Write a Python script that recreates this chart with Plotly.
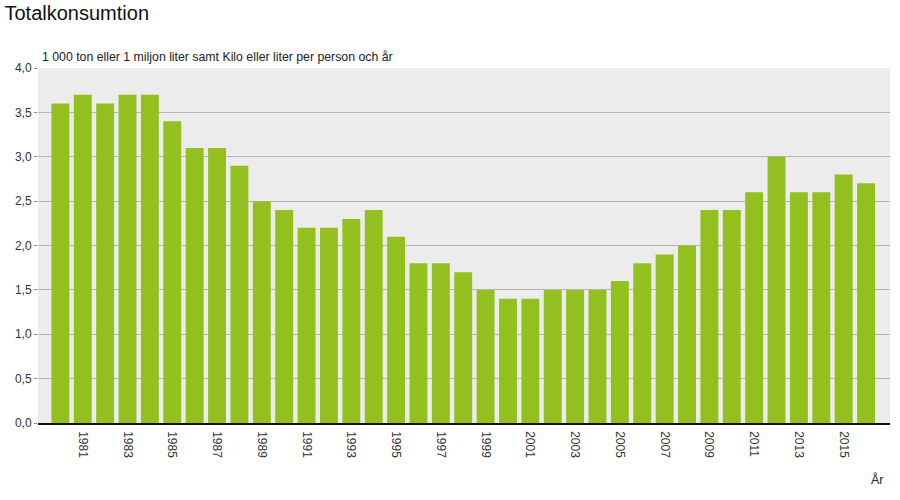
import plotly.graph_objects as go

years = list(range(1980, 2017))
values = [3.6, 3.7, 3.6, 3.7, 3.7, 3.4, 3.1, 3.1, 2.9, 2.5,
          2.4, 2.2, 2.2, 2.3, 2.4, 2.1, 1.8, 1.8, 1.7, 1.5,
          1.4, 1.4, 1.5, 1.5, 1.5, 1.6, 1.8, 1.9, 2.0, 2.4,
          2.4, 2.6, 3.0, 2.6, 2.6, 2.8, 2.7]
tick_years = list(range(1981, 2016, 2))
y_ticks = [0, 0.5, 1.0, 1.5, 2.0, 2.5, 3.0, 3.5, 4.0]

fig = go.Figure(go.Bar(x=years, y=values, marker_color="#93c01f",
                       marker_line_width=0, width=0.8))

fig.update_layout(
    width=900, height=500,
    margin=dict(l=38, r=10, t=68, b=77),
    paper_bgcolor="white", plot_bgcolor="#ececec",
    font=dict(family="Liberation Sans, Arial", size=12, color="#333"),
    separators=", ",
    showlegend=False,
    title=dict(text="Totalkonsumtion", x=0.005, xanchor="left", y=0.975, yanchor="middle",
               font=dict(size=20, color="#111")),
)
fig.update_xaxes(range=[1979.0, 2017.07], tickvals=tick_years, ticktext=[str(y) for y in tick_years],
                 tickangle=90, showgrid=False, showline=True, linecolor="#111", linewidth=1.5,
                 ticks="outside", ticklen=4, tickcolor="rgba(0,0,0,0)",
                 tickfont=dict(size=12, color="#333"), zeroline=False)
fig.update_yaxes(range=[0, 4.0], tickvals=y_ticks, tickformat=".1f", showgrid=True,
                 gridcolor="#b4b4b4", gridwidth=1, zeroline=False, ticks="outside",
                 ticklen=3, tickcolor="#888", tickfont=dict(size=12, color="#333"))

fig.add_annotation(text="1 000 ton eller 1 miljon liter samt Kilo eller liter per person och år",
                   xref="paper", yref="paper", x=0.002, y=1.0, xanchor="left", yanchor="bottom",
                   yshift=2, showarrow=False, font=dict(size=12.3, color="#222"))
fig.add_annotation(text="År", xref="paper", yref="paper", x=0.995, y=-0.16,
                   xanchor="right", yanchor="middle", showarrow=False,
                   font=dict(size=12.5, color="#222"))

fig.write_html("out.html")
